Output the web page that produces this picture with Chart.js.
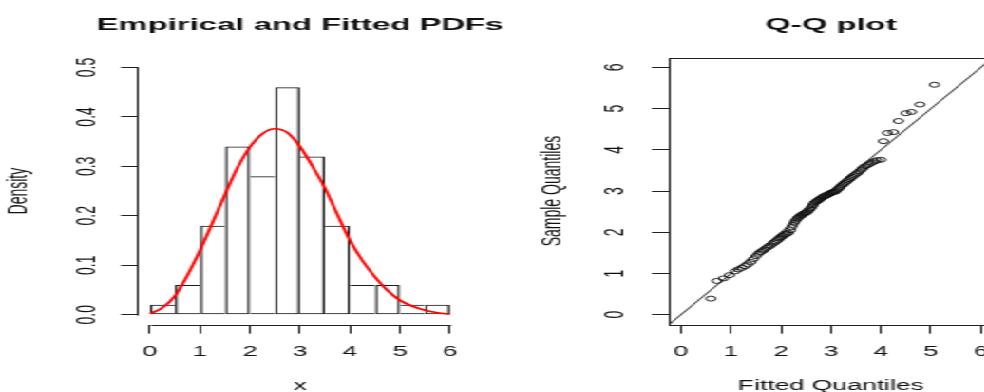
<!DOCTYPE html>
<html><head><meta charset="utf-8">
<script src="https://cdn.jsdelivr.net/npm/chart.js@4.4.1/dist/chart.umd.min.js"></script>
<style>
html,body{margin:0;padding:0;background:#fff;overflow:hidden;width:984px;height:392px}
#wrap{position:absolute;left:0;top:0;width:620px;height:392px;transform:scaleX(1.9);transform-origin:0 0}
canvas{position:absolute;top:0}
</style></head><body>
<div id="wrap">
<canvas id="hist" width="316" height="392" style="left:0;width:316px;height:392px"></canvas>
<canvas id="qq" width="360" height="392" style="left:259px;width:360px;height:392px"></canvas>
</div>
<script>
// ---- data ----
const binCenters = [0.25,0.75,1.25,1.75,2.25,2.75,3.25,3.75,4.25,4.75,5.25,5.75];
const density    = [0.02,0.06,0.18,0.34,0.28,0.46,0.32,0.18,0.06,0.06,0.02,0.02];

const pdfX = [0,0.25,0.5,0.75,1,1.25,1.5,1.75,2,2.25,2.5,2.75,3,3.25,3.5,3.75,4,4.25,4.5,4.75,5,5.25,5.5,5.75,6];
const pdfY = [0.002,0.014,0.038,0.080,0.130,0.186,0.243,0.297,0.339,0.366,0.376,0.368,0.340,0.300,0.256,0.202,0.150,0.109,0.076,0.049,0.029,0.017,0.009,0.004,0.001];

const fittedQ = [0.60,0.72,0.85,0.97,1.08,1.15,1.22,1.28,1.34,1.40,1.45,1.50,1.55,1.59,1.63,1.67,1.71,1.75,1.79,1.83,
 1.87,1.90,1.94,1.97,2.00,2.03,2.06,2.09,2.12,2.15,2.19,2.21,2.24,2.27,2.29,2.32,2.34,2.37,2.39,2.42,
 2.44,2.47,2.49,2.52,2.54,2.57,2.59,2.62,2.64,2.66,2.69,2.71,2.74,2.76,2.78,2.81,2.83,2.86,2.88,2.91,
 2.93,2.96,2.98,3.01,3.03,3.06,3.09,3.11,3.14,3.17,3.19,3.22,3.25,3.28,3.31,3.34,3.37,3.40,3.43,3.46,
 3.50,3.53,3.57,3.61,3.64,3.68,3.73,3.77,3.82,3.87,3.92,4.00,4.05,4.13,4.25,4.35,4.50,4.61,4.78,5.07];
const sampleQ = [0.39,0.82,0.88,0.96,1.05,1.10,1.14,1.18,1.22,1.28,1.35,1.42,1.48,1.52,1.55,1.58,1.62,1.65,1.68,1.72,
 1.75,1.78,1.81,1.85,1.88,1.91,1.93,1.95,1.97,1.99,2.05,2.12,2.18,2.24,2.28,2.32,2.35,2.38,2.40,2.42,
 2.44,2.46,2.47,2.49,2.52,2.55,2.58,2.62,2.66,2.70,2.73,2.75,2.77,2.79,2.81,2.83,2.85,2.87,2.88,2.90,
 2.91,2.93,2.94,2.96,2.97,2.98,2.99,3.02,3.05,3.08,3.11,3.14,3.17,3.20,3.23,3.26,3.29,3.32,3.35,3.38,
 3.41,3.44,3.48,3.52,3.56,3.60,3.63,3.66,3.69,3.72,3.75,3.76,4.21,4.41,4.43,4.70,4.89,4.92,5.10,5.58];

const xTicks = [0,1,2,3,4,5,6];
const densityTicks = [0,0.1,0.2,0.3,0.4,0.5];
const densityTickLabels = ['0.0','0.1','0.2','0.3','0.4','0.5'];
const qqTicks = [0,1,2,3,4,5,6];
const histXRange = [-0.24, 6.24];
const densityRange = [-0.02, 0.52];
const qqRange = [-0.24, 6.24];

// ---- styling ----
Chart.defaults.font.family = '"Liberation Sans", Arial, Helvetica, sans-serif';
Chart.defaults.color = '#111';
const INK = '#222';

const histAxes = {
  id: 'histAxes',
  afterDraw(chart) {
    const {ctx, chartArea: ca, scales: {x, y}} = chart;
    ctx.save();
    ctx.strokeStyle = INK; ctx.lineWidth = 1;
    const yb = Math.round(ca.bottom) + 0.5;
    const xl = Math.round(ca.left) - 0.5;
    ctx.beginPath();
    ctx.moveTo(Math.round(x.getPixelForValue(xTicks[0])) + 0.5, yb);
    ctx.lineTo(Math.round(x.getPixelForValue(xTicks[xTicks.length - 1])) + 0.5, yb);
    ctx.moveTo(xl, Math.round(y.getPixelForValue(densityTicks[0])) + 0.5);
    ctx.lineTo(xl, Math.round(y.getPixelForValue(densityTicks[densityTicks.length - 1])) + 0.5);
    ctx.stroke();
    ctx.restore();
  }
};
const qqFrame = {
  id: 'qqFrame',
  afterDraw(chart) {
    const {ctx, chartArea: ca} = chart;
    ctx.save();
    ctx.strokeStyle = INK; ctx.lineWidth = 1;
    ctx.strokeRect(Math.round(ca.left) + 0.5, Math.round(ca.top) + 0.5, Math.round(ca.width), Math.round(ca.height));
    ctx.restore();
  }
};

function xScale(range, ticks, titleText) {
  return {
    type: 'linear', position: 'bottom', min: range[0], max: range[1], offset: false,
    afterBuildTicks: s => { s.ticks = ticks.map(v => ({value: v})); },
    afterFit: s => { s.height = 67.4; s.paddingLeft = 0; s.paddingRight = 0; },
    border: {display: false},
    grid: {display: true, drawOnChartArea: false, drawTicks: true, tickLength: 9, color: INK, offset: false},
    ticks: {padding: 10, autoSkip: false, maxRotation: 0, minRotation: 0, font: {size: 14}, callback: (v, i) => String(ticks[i])},
    title: {display: true, text: titleText, font: {size: 14, lineHeight: 1}, padding: {top: 0, bottom: -1}}
  };
}
function yScale(range, ticks, labels, width, tickPad, titleText, titlePad) {
  return {
    type: 'linear', position: 'left', min: range[0], max: range[1],
    afterBuildTicks: s => { s.ticks = ticks.map(v => ({value: v})); },
    afterFit: s => { s.width = width; s.paddingTop = 0; s.paddingBottom = 0; },
    border: {display: false},
    grid: {display: true, drawOnChartArea: false, drawTicks: true, tickLength: 9, color: INK},
    ticks: {padding: tickPad, crossAlign: 'center', minRotation: 90, maxRotation: 90, autoSkip: false, font: {size: 14}, callback: (v, i) => labels[i]},
    title: {display: true, text: titleText, font: {size: 14}, padding: {top: titlePad, bottom: 0}}
  };
}
// empty right-hand spacer so that the full-width title is centred over the plot
function spacer(width) {
  return {
    type: 'linear', position: 'right', display: true,
    afterFit: s => { s.width = width; s.paddingTop = 0; s.paddingBottom = 0; },
    border: {display: false}, grid: {display: false}, ticks: {display: false}, title: {display: false}
  };
}
function titleOpts(text) {
  return {display: true, text, fullSize: true, color: '#111', font: {size: 17.3, weight: 'bold', lineHeight: 1.2}, padding: {top: 15, bottom: 21.8}};
}

new Chart(document.getElementById('hist'), {
  type: 'bar',
  data: {datasets: [
    {type: 'line', data: pdfX.map((x, i) => ({x, y: pdfY[i]})), borderColor: '#ff0000', borderWidth: 1.7,
     pointRadius: 0, cubicInterpolationMode: 'monotone', fill: false, order: 0},
    {type: 'bar', data: binCenters.map((x, i) => ({x, y: density[i]})), backgroundColor: 'rgba(255,255,255,0)',
     borderColor: '#1a1a1a', inflateAmount: 0, borderSkipped: false, barPercentage: 1, categoryPercentage: 1, order: 1,
     borderWidth: c => {
       const i = c.dataIndex, n = density.length;
       return {top: 1, bottom: 1,
               left: (i === 0 || density[i - 1] <= density[i]) ? 1.25 : 0,
               right: (i === n - 1 || density[i + 1] < density[i]) ? 1.25 : 0};
     }}
  ]},
  options: {
    responsive: false, animation: false, devicePixelRatio: 1,
    layout: {padding: {left: 0, right: 0.2, top: 0, bottom: 0}},
    plugins: {legend: {display: false}, tooltip: {enabled: false}, title: titleOpts('Empirical and Fitted PDFs')},
    scales: {
      x: xScale(histXRange, xTicks, 'x'),
      y: yScale(densityRange, densityTicks, densityTickLabels, 72.6, 7.5, 'Density', 2),
      pad: spacer(72.6)
    }
  },
  plugins: [histAxes]
});

new Chart(document.getElementById('qq'), {
  type: 'scatter',
  data: {datasets: [
    {data: fittedQ.map((x, i) => ({x, y: sampleQ[i]})), pointRadius: 2.5, pointBorderWidth: 0.9,
     pointBorderColor: '#111', pointBackgroundColor: 'rgba(0,0,0,0)', showLine: false, order: 0},
    {type: 'line', data: [{x: qqRange[0], y: qqRange[0]}, {x: qqRange[1], y: qqRange[1]}], borderColor: '#333',
     borderWidth: 1, pointRadius: 0, showLine: true, fill: false, order: 1}
  ]},
  options: {
    responsive: false, animation: false, devicePixelRatio: 1,
    layout: {padding: {left: 0, right: 3.3, top: 0, bottom: 0}},
    plugins: {legend: {display: false}, tooltip: {enabled: false}, title: titleOpts('Q-Q plot')},
    scales: {
      x: xScale(qqRange, qqTicks, 'Fitted Quantiles'),
      y: yScale(qqRange, qqTicks, qqTicks.map(String), 93.1, 15, 'Sample Quantiles', 23.6),
      pad: spacer(93.1)
    }
  },
  plugins: [qqFrame]
});
</script>
</body></html>
